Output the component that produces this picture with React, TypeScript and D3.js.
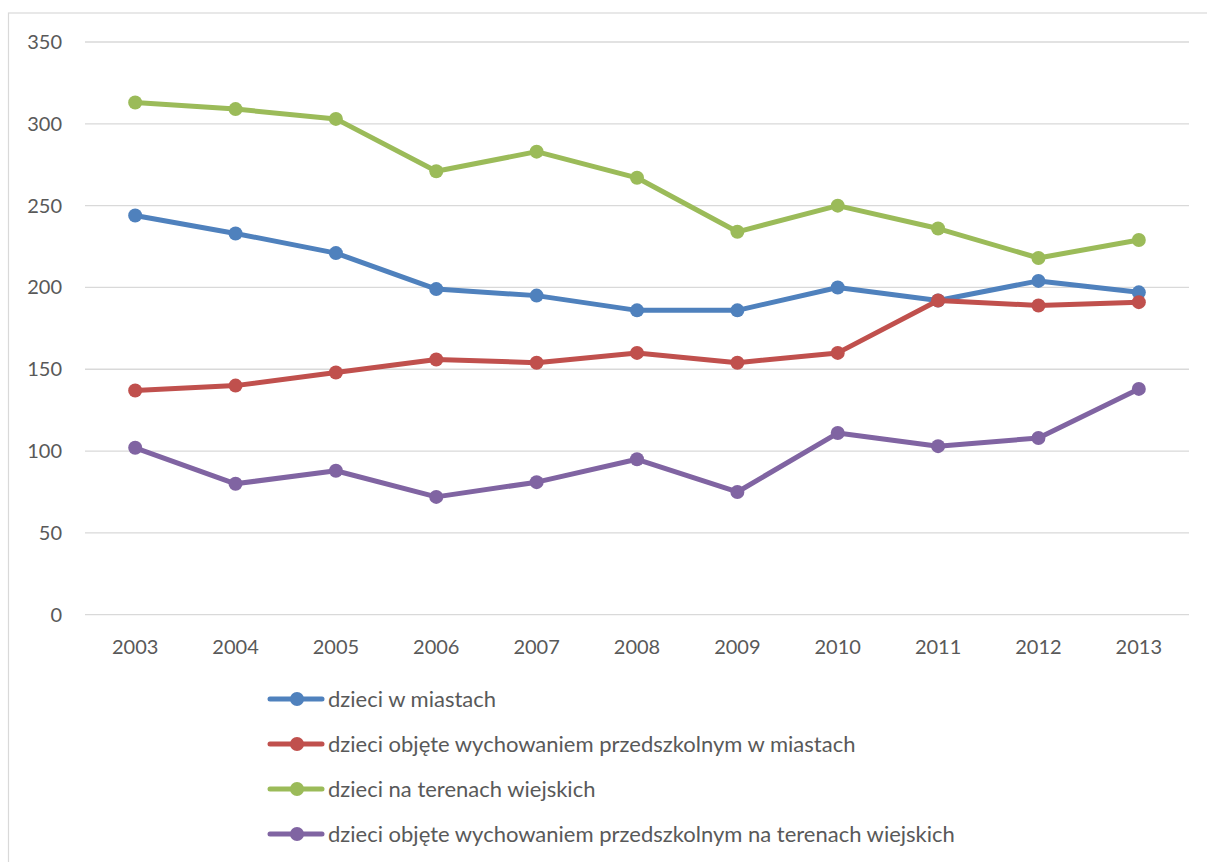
import React, { useRef, useEffect } from 'react';
import * as d3 from 'd3';

const years = ['2003', '2004', '2005', '2006', '2007', '2008', '2009', '2010', '2011', '2012', '2013'];

const dzieciMiasta = [244, 233, 221, 199, 195, 186, 186, 200, 192, 204, 197];
const przedszkoleMiasta = [137, 140, 148, 156, 154, 160, 154, 160, 192, 189, 191];
const dzieciWies = [313, 309, 303, 271, 283, 267, 234, 250, 236, 218, 229];
const przedszkoleWies = [102, 80, 88, 72, 81, 95, 75, 111, 103, 108, 138];

const seriesNames = [
  'dzieci w miastach',
  'dzieci objęte wychowaniem przedszkolnym w miastach',
  'dzieci na terenach wiejskich',
  'dzieci objęte wychowaniem przedszkolnym na terenach wiejskich'
];
const seriesColors = ['#4F81BD', '#C0504D', '#9BBB59', '#8064A2'];
const yTicks = [0, 50, 100, 150, 200, 250, 300, 350];

const App: React.FC = () => {
  const svgRef = useRef<SVGSVGElement>(null);
  const width = 1207;
  const height = 862;

  useEffect(() => {
    document.body.style.margin = '0';
    document.body.style.overflow = 'hidden';
    if (!svgRef.current) return;
    const svg = d3.select(svgRef.current);
    svg.selectAll('*').remove();

    const font = 'Lato, "Open Sans", sans-serif';
    const textColor = '#595959';
    const allSeries = [dzieciMiasta, przedszkoleMiasta, dzieciWies, przedszkoleWies];

    // outer chart frame (right and bottom edges fall outside the view)
    svg.append('rect')
      .attr('x', 8.5)
      .attr('y', 13)
      .attr('width', 1300)
      .attr('height', 1000)
      .attr('fill', 'white')
      .attr('stroke', '#d9d9d9')
      .attr('stroke-width', 1.2);

    const plotLeft = 85;
    const plotRight = 1189;

    const x = d3.scaleBand<string>()
      .domain(years)
      .range([plotLeft, plotRight]);

    const y = d3.scaleLinear()
      .domain([0, 350])
      .range([614.7, 42]);

    // gridlines
    svg.append('g')
      .selectAll('line')
      .data(yTicks)
      .enter()
      .append('line')
      .attr('x1', plotLeft)
      .attr('x2', plotRight)
      .attr('y1', d => y(d))
      .attr('y2', d => y(d))
      .attr('stroke', '#d9d9d9')
      .attr('stroke-width', 1.3);

    // y labels
    svg.append('g')
      .selectAll('text')
      .data(yTicks)
      .enter()
      .append('text')
      .attr('x', 62)
      .attr('y', d => y(d))
      .attr('dy', '0.35em')
      .attr('text-anchor', 'end')
      .attr('font-family', font)
      .attr('font-size', 20)
      .attr('fill', textColor)
      .text(d => d);

    // x labels
    svg.append('g')
      .selectAll('text')
      .data(years)
      .enter()
      .append('text')
      .attr('x', d => x(d)! + x.bandwidth() / 2)
      .attr('y', 646.7)
      .attr('dy', '0.35em')
      .attr('text-anchor', 'middle')
      .attr('font-family', font)
      .attr('font-size', 20)
      .attr('fill', textColor)
      .text(d => d);

    const line = d3.line<number>()
      .x((_, i) => x(years[i])! + x.bandwidth() / 2)
      .y(d => y(d));

    allSeries.forEach((values, s) => {
      const g = svg.append('g');
      g.append('path')
        .datum(values)
        .attr('d', line)
        .attr('fill', 'none')
        .attr('stroke', seriesColors[s])
        .attr('stroke-width', 5)
        .attr('stroke-linejoin', 'round')
        .attr('stroke-linecap', 'round');
      g.selectAll('circle')
        .data(values)
        .enter()
        .append('circle')
        .attr('cx', (_, i) => x(years[i])! + x.bandwidth() / 2)
        .attr('cy', d => y(d))
        .attr('r', 7)
        .attr('fill', seriesColors[s]);
    });

    // legend
    const legendY = [699, 744, 789, 834];
    const legend = svg.append('g');
    seriesNames.forEach((name, s) => {
      const row = legend.append('g').attr('transform', `translate(0, ${legendY[s]})`);
      row.append('line')
        .attr('x1', 270)
        .attr('x2', 322)
        .attr('y1', 0)
        .attr('y2', 0)
        .attr('stroke', seriesColors[s])
        .attr('stroke-width', 5)
        .attr('stroke-linecap', 'round');
      row.append('circle')
        .attr('cx', 297)
        .attr('cy', 0)
        .attr('r', 7)
        .attr('fill', seriesColors[s]);
      row.append('text')
        .attr('x', 328)
        .attr('y', 0)
        .attr('dy', '0.35em')
        .attr('font-family', font)
        .attr('font-size', 22)
        .attr('fill', textColor)
        .text(name);
    });
  }, []);

  return <svg ref={svgRef} width={width} height={height} style={{ display: 'block' }} />;
};

export default App;
